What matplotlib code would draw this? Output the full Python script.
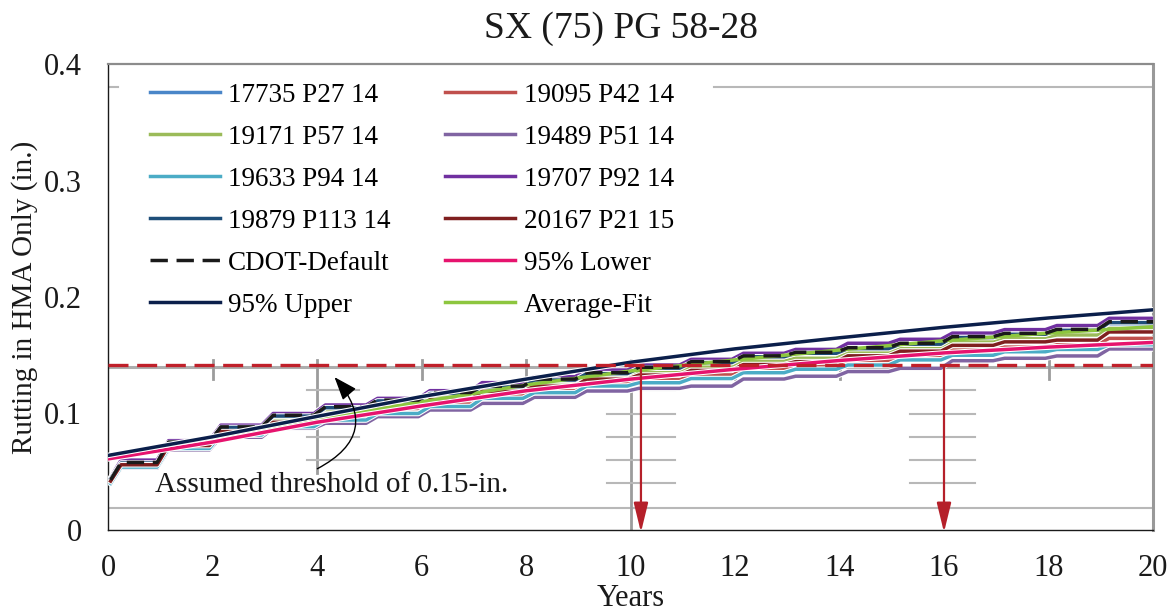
import numpy as np
import matplotlib
matplotlib.use("Agg")
import matplotlib.pyplot as plt
import matplotlib.patheffects as pe
from matplotlib.patches import FancyArrowPatch

plt.rcParams['font.family'] = ['Liberation Serif', 'DejaVu Serif']

# --- data ---------------------------------------------------------------
# stepped series: value at start (t ~ 0.05) + plateau level reached each year 0..19
series_names = ["17735 P27 14", "19095 P42 14", "19171 P57 14", "19489 P51 14",
                "19633 P94 14", "19707 P92 14", "19879 P113 14", "20167 P21 15"]
series_colors = ["#4A86C8", "#C0504D", "#9BBB59", "#8064A2",
                 "#4BACC6", "#7030A0", "#1E4E79", "#7F1F1F"]
series_start = [0.042, 0.042, 0.043, 0.040, 0.040, 0.045, 0.044, 0.042]

p_17735 = [0.0555, 0.0720, 0.0845, 0.0950, 0.1030, 0.1088, 0.1158, 0.1225, 0.1272, 0.1334,
           0.1375, 0.1420, 0.1470, 0.1498, 0.1548, 0.1590, 0.1643, 0.1675, 0.1700, 0.1760]
p_19095 = [0.0550, 0.0712, 0.0828, 0.0905, 0.0970, 0.1025, 0.1090, 0.1160, 0.1205, 0.1262,
           0.1298, 0.1335, 0.1385, 0.1410, 0.1455, 0.1495, 0.1545, 0.1570, 0.1590, 0.1645]
p_19171 = [0.0570, 0.0738, 0.0858, 0.0944, 0.1016, 0.1070, 0.1145, 0.1216, 0.1260, 0.1320,
           0.1359, 0.1400, 0.1450, 0.1474, 0.1530, 0.1573, 0.1625, 0.1655, 0.1674, 0.1730]
p_19489 = [0.0530, 0.0687, 0.0796, 0.0873, 0.0916, 0.0973, 0.1030, 0.1087, 0.1139, 0.1193,
           0.1216, 0.1235, 0.1296, 0.1320, 0.1360, 0.1388, 0.1453, 0.1474, 0.1494, 0.1554]
p_19633 = [0.0540, 0.0700, 0.0815, 0.0887, 0.0944, 0.1000, 0.1060, 0.1130, 0.1179, 0.1236,
           0.1264, 0.1300, 0.1350, 0.1380, 0.1416, 0.1460, 0.1500, 0.1530, 0.1550, 0.1590]
p_19707 = [0.0600, 0.0767, 0.0900, 0.1000, 0.1073, 0.1130, 0.1196, 0.1265, 0.1316, 0.1373,
           0.1416, 0.1465, 0.1517, 0.1550, 0.1603, 0.1637, 0.1690, 0.1720, 0.1755, 0.1817]
p_19879 = [0.0575, 0.0750, 0.0880, 0.0978, 0.1050, 0.1108, 0.1172, 0.1228, 0.1287, 0.1342,
           0.1389, 0.1437, 0.1487, 0.1517, 0.1557, 0.1595, 0.1652, 0.1680, 0.1714, 0.1780]
p_20167 = [0.0560, 0.0725, 0.0845, 0.0925, 0.0995, 0.1048, 0.1120, 0.1190, 0.1235, 0.1295,
           0.1330, 0.1370, 0.1420, 0.1445, 0.1495, 0.1535, 0.1585, 0.1615, 0.1630, 0.1700]
series_plateaus = [p_17735, p_19095, p_19171, p_19489, p_19633, p_19707, p_19879, p_20167]

cdot_start = 0.043
p_cdot = [0.0580, 0.0755, 0.0885, 0.0985, 0.1058, 0.1115, 0.1180, 0.1235, 0.1295, 0.1350,
          0.1397, 0.1445, 0.1495, 0.1525, 0.1565, 0.1603, 0.1660, 0.1688, 0.1722, 0.1788]

# smooth fits, read at even years
fit_years = [0, 2, 4, 6, 8, 10, 12, 14, 16, 18, 20]
upper_95 = [0.0640, 0.0800, 0.0975, 0.1145, 0.1295, 0.1440, 0.1555, 0.1650, 0.1740, 0.1820, 0.1890]
lower_95 = [0.0610, 0.0755, 0.0925, 0.1065, 0.1195, 0.1295, 0.1380, 0.1455, 0.1520, 0.1570, 0.1610]
avg_fit = [0.0625, 0.0778, 0.0950, 0.1100, 0.1245, 0.1365, 0.1460, 0.1545, 0.1625, 0.1690, 0.1745]

threshold = 0.1416
arrow_years = [10.2, 16.0]

# legend reads row by row in the original (two columns)
legend_order = ["17735 P27 14", "19095 P42 14", "19171 P57 14", "19489 P51 14",
                "19633 P94 14", "19707 P92 14", "19879 P113 14", "20167 P21 15",
                "CDOT-Default", "95% Lower", "95% Upper", "Average-Fit"]


def step_path(start, plateaus):
    xs, ys = [0.05, 0.25], [start, plateaus[0]]
    for k in range(1, len(plateaus)):
        xs += [k - 0.06, k + 0.16]
        ys += [plateaus[k - 1], plateaus[k]]
    xs.append(20)
    ys.append(plateaus[-1])
    return xs, ys


fig = plt.figure(figsize=(11.72, 6.11), dpi=100)
ax = fig.add_axes([108 / 1172, 1 - 530 / 611, 1045 / 1172, 466 / 611])

# faint grey guide marks left over in the original figure
guide = dict(color="#B8B8B8", lw=1.5, zorder=1)
ax.plot([0, 20], [0.019, 0.019], **guide)
ax.plot([11.6, 20], [0.380, 0.380], **guide)
ax.plot([0.02, 0.2], [0.380, 0.380], **guide)
ax.plot([0, 20], [0.1395, 0.1395], color="#ADADAD", lw=2.2, zorder=1)
for xv in [2, 6, 8, 12, 14, 18, 20]:
    ax.plot([xv, xv], [0.130, 0.146], color="#9C9C9C", lw=2, zorder=1)
ax.plot([4, 4], [0.049, 0.146], color="#9C9C9C", lw=2, zorder=1)
ax.plot([10, 10], [0, 0.146], color="#9C9C9C", lw=2, zorder=1)
for yv in [0.12, 0.10, 0.08, 0.06]:
    ax.plot([3.8, 4.8], [yv, yv], **guide)
for yv in [0.12, 0.10, 0.08, 0.06, 0.04]:
    ax.plot([9.55, 10.85], [yv, yv], **guide)
    ax.plot([15.35, 16.6], [yv, yv], **guide)

edge = [pe.Stroke(linewidth=4.0, foreground="white"), pe.Normal()]
handles = {}
for name, col, st, pl in zip(series_names, series_colors, series_start, series_plateaus):
    xs, ys = step_path(st, pl)
    ln, = ax.plot(xs, ys, color=col, lw=2.5, zorder=3, path_effects=edge,
                  solid_joinstyle="round")
    handles[name] = ln

xs, ys = step_path(cdot_start, p_cdot)
handles["CDOT-Default"], = ax.plot(xs, ys, color="#1A1A1A", lw=2.5, dashes=[5, 2.5], zorder=4)
handles["95% Lower"], = ax.plot(fit_years, lower_95, color="#E6136E", lw=2.5, zorder=4,
                                path_effects=edge)
handles["95% Upper"], = ax.plot(fit_years, upper_95, color="#0B1F4B", lw=2.5, zorder=4,
                                path_effects=edge)
handles["Average-Fit"], = ax.plot(fit_years, avg_fit, color="#8DC63F", lw=2.5, zorder=3)

# threshold line and read-off arrows
ax.axhline(threshold, color="#C0202A", lw=2.4, dashes=[6, 2.6], zorder=5)
for xa in arrow_years:
    ax.annotate("", xy=(xa, -0.002), xytext=(xa, threshold), annotation_clip=False,
                arrowprops=dict(arrowstyle="-|>,head_length=0.9,head_width=0.22",
                                color="#B5202A", lw=1.6, mutation_scale=20,
                                shrinkA=0, shrinkB=0), zorder=6)

ax.text(0.9, 0.0386, "Assumed threshold of 0.15-in.", fontsize=21, va="center",
        ha="left", color="#1A1A1A", zorder=6)
ax.add_patch(FancyArrowPatch((3.96, 0.0515), (4.3, 0.133),
                             connectionstyle="arc3,rad=0.65",
                             arrowstyle="-|>,head_length=0.8,head_width=0.3",
                             mutation_scale=18, color="black", lw=1.0, zorder=6))

# matplotlib fills legend columns first, so feed the two columns in turn
col_order = legend_order[0::2] + legend_order[1::2]
leg = ax.legend([handles[k] for k in col_order], col_order, ncol=2, loc="upper left",
                bbox_to_anchor=(0.040, 0.960), frameon=False, fontsize=19.5,
                handlelength=2.6, handletextpad=0.3, labelspacing=0.63,
                columnspacing=2.0, borderpad=0, borderaxespad=0)
for h in leg.legend_handles:
    h.set_path_effects([])

ax.set_xlim(0, 20)
ax.set_ylim(0, 0.4)
ax.set_xticks(np.arange(0, 21, 2))
ax.set_yticks([0, 0.1, 0.2, 0.3, 0.4])
ax.set_yticklabels(["0", "0.1", "0.2", "0.3", "0.4"])
ax.tick_params(axis="both", length=0, labelsize=22, colors="#1A1A1A")
ax.tick_params(axis="y", pad=19)
ax.tick_params(axis="x", pad=17)
ax.set_xlabel("Years", fontsize=22, labelpad=1, color="#1A1A1A")
ax.set_ylabel("Rutting in HMA Only (in.)", fontsize=21, labelpad=4, color="#1A1A1A")
ax.set_title("SX (75) PG 58-28", fontsize=27, pad=19, color="#1A1A1A", x=0.491)

for s in ["left", "bottom"]:
    ax.spines[s].set_color("#1A1A1A")
    ax.spines[s].set_linewidth(1.0)
ax.spines["top"].set_color("#8C8C8C")
ax.spines["top"].set_linewidth(1.6)
ax.spines["right"].set_color("#999999")
ax.spines["right"].set_linewidth(2.2)

fig.savefig("out.png", dpi=100)
